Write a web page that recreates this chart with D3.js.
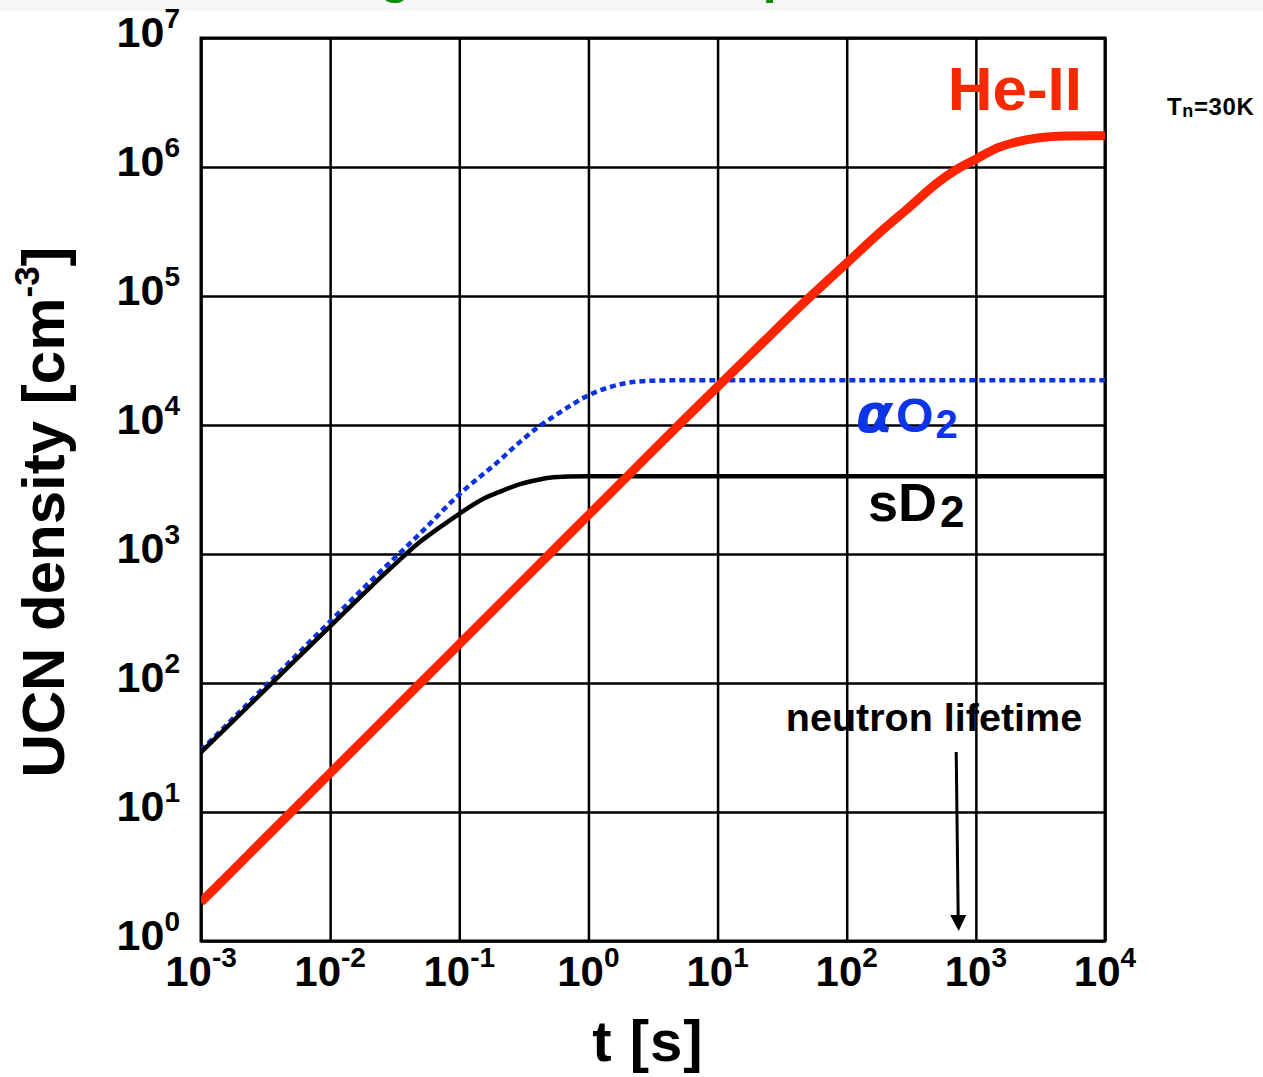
<!DOCTYPE html>
<html><head><meta charset="utf-8">
<script src="https://cdn.jsdelivr.net/npm/d3@7"></script>
<style>
html,body{margin:0;padding:0;background:#fff;}
svg{display:block;font-family:"Liberation Sans",Arial,Helvetica,sans-serif;font-weight:bold;}
</style></head>
<body>
<svg id="chart" width="1263" height="1077"></svg>
<script>
// ---- data ----
const xTickExps = [-3, -2, -1, 0, 1, 2, 3, 4];
const yTickExps = [0, 1, 2, 3, 4, 5, 6, 7];

const heT = [0.001, 0.002, 0.005, 0.01, 0.02, 0.05, 0.1, 0.2, 0.5, 1, 2, 5, 10, 20, 50, 100, 200, 300, 500, 700, 1000, 1500, 2000, 3000, 5000, 10000];
const heN = [2, 4, 10, 20, 40, 100, 200, 400, 1000, 2000, 4000, 10000, 19800, 39000, 95000, 180000, 340000, 480000, 750000, 950000, 1150000, 1420000, 1550000, 1680000, 1740000, 1750000];

const sd2T = [0.001, 0.002, 0.005, 0.01, 0.02, 0.03, 0.05, 0.07, 0.1, 0.15, 0.2, 0.3, 0.4, 0.5, 0.7, 1, 10, 100, 1000, 10000];
const sd2N = [29, 57, 140, 275, 540, 790, 1250, 1600, 2050, 2650, 3000, 3500, 3750, 3900, 3980, 4000, 4000, 4000, 4000, 4000];

const o2T = [0.001, 0.002, 0.005, 0.01, 0.02, 0.05, 0.1, 0.2, 0.3, 0.4, 0.6, 0.8, 1, 1.5, 2, 3, 5, 10, 100, 1000, 10000];
const o2N = [30, 60, 150, 300, 600, 1450, 2900, 5200, 7500, 9500, 12500, 15000, 17000, 19800, 21200, 22000, 22200, 22200, 22200, 22200, 22200];

const lifetimeT = 730;

// ---- layout ----
const svg = d3.select("#chart");
const L = 201, R = 1105, T = 38, B = 941;
const x = d3.scaleLog().domain([1e-3, 1e4]).range([L, R]);
const y = d3.scaleLog().domain([1, 1e7]).range([B, T]);

// top band with green title cut off by the page edge, as in the reference
svg.append("rect").attr("x", 0).attr("y", 0).attr("width", 1263).attr("height", 11).attr("fill", "#f7f7f7");
const title = svg.append("text").attr("y", -9).attr("font-size", 56).attr("fill", "#0a8c0a")
  .text("UCN growth in the superthermal");
(function placeTitle(){
  const s = title.text();
  const gi = s.indexOf("g"), pi = s.indexOf("p");
  const node = title.node();
  const d = node.getStartPositionOfChar(pi).x - node.getStartPositionOfChar(gi).x;
  const fs = 56 * (763 - 380) / d;
  title.attr("font-size", fs).attr("y", 3 - 0.2 * fs);
  const gx0 = node.getStartPositionOfChar(gi).x;
  title.attr("x", 380 - gx0);
})();

// grid via axes
const gx = svg.append("g").attr("transform", `translate(0,${B})`)
  .call(d3.axisBottom(x).tickValues(xTickExps.map(e => Math.pow(10, e))).tickSize(-(B - T)).tickFormat(""));
const gy = svg.append("g").attr("transform", `translate(${L},0)`)
  .call(d3.axisLeft(y).tickValues(yTickExps.map(e => Math.pow(10, e))).tickSize(-(R - L)).tickFormat(""));
[gx, gy].forEach(g => {
  g.select(".domain").remove();
  g.selectAll(".tick line").attr("stroke", "#000").attr("stroke-width", 2.5);
});
svg.append("rect").attr("x", L).attr("y", T).attr("width", R - L).attr("height", B - T)
  .attr("fill", "none").attr("stroke", "#000").attr("stroke-width", 3);

// tick labels
xTickExps.forEach(e => {
  const t = svg.append("text").attr("x", x(Math.pow(10, e))).attr("y", 986)
    .attr("text-anchor", "middle").attr("font-size", 42).attr("fill", "#000");
  t.append("tspan").text("10");
  t.append("tspan").attr("dy", -19).attr("font-size", 28).text(String(e));
});
yTickExps.forEach(e => {
  const t = svg.append("text").attr("x", 180).attr("y", y(Math.pow(10, e)) + 9)
    .attr("text-anchor", "end").attr("font-size", 43).attr("fill", "#000");
  t.append("tspan").text("10");
  t.append("tspan").attr("dy", -19).attr("font-size", 28).text(String(e));
});

// axis titles
const yt = svg.append("text").attr("transform", "translate(64,512) rotate(-90)")
  .attr("text-anchor", "middle").attr("font-size", 60).attr("fill", "#000");
yt.append("tspan").text("UCN density [cm");
yt.append("tspan").attr("dy", -25).attr("font-size", 35).text("-3");
yt.append("tspan").attr("dy", 25).text("]");

svg.append("text").attr("x", 648).attr("y", 1061).attr("text-anchor", "middle")
  .attr("font-size", 58).attr("letter-spacing", 1).attr("fill", "#000").text("t [s]");

// curves
const line = d3.line().x(d => x(d[0])).y(d => y(d[1])).curve(d3.curveMonotoneX);
svg.append("clipPath").attr("id", "pc").append("rect")
  .attr("x", L).attr("y", T).attr("width", R - L).attr("height", B - T);

svg.append("path").datum(o2T.map((t, i) => [t, o2N[i]])).attr("d", line)
  .attr("fill", "none").attr("stroke", "#0b33e0").attr("stroke-width", 4.5)
  .attr("stroke-dasharray", "6,4").attr("clip-path", "url(#pc)");
svg.append("path").datum(sd2T.map((t, i) => [t, sd2N[i]])).attr("d", line)
  .attr("fill", "none").attr("stroke", "#000").attr("stroke-width", 4.5).attr("clip-path", "url(#pc)");
svg.append("path").datum(heT.map((t, i) => [t, heN[i]])).attr("d", line)
  .attr("fill", "none").attr("stroke", "#ff2400").attr("stroke-width", 9).attr("clip-path", "url(#pc)");

// series labels
svg.append("text").attr("x", 1082).attr("y", 110).attr("text-anchor", "end")
  .attr("font-size", 62).attr("fill", "#f52a00").text("He-II");

const ao = svg.append("text").attr("x", 856).attr("y", 432).attr("font-size", 48).attr("fill", "#0b35e6");
ao.append("tspan").attr("font-style", "italic").attr("font-family", "'DejaVu Sans',sans-serif").attr("font-size", 54).text("α");
ao.append("tspan").attr("dx", 3).text("O");
ao.append("tspan").attr("dx", 2).attr("dy", 6).attr("font-size", 40).text("2");

const sd = svg.append("text").attr("x", 868).attr("y", 521).attr("font-size", 54).attr("fill", "#000");
sd.append("tspan").text("sD");
sd.append("tspan").attr("dx", 3).attr("dy", 6).attr("font-size", 44).text("2");

svg.append("text").attr("x", 934).attr("y", 731).attr("text-anchor", "middle")
  .attr("font-size", 39.5).attr("fill", "#000").text("neutron lifetime");

// arrow
const ax = x(lifetimeT);
svg.append("line").attr("x1", ax - 2).attr("y1", 752).attr("x2", ax).attr("y2", 918)
  .attr("stroke", "#000").attr("stroke-width", 3);
svg.append("path").attr("d", `M${ax - 8},915 L${ax + 8},915 L${ax + 0.5},931 Z`).attr("fill", "#000");

const tn = svg.append("text").attr("x", 1167).attr("y", 115).attr("font-size", 24).attr("letter-spacing", 0.6).attr("fill", "#000");
tn.append("tspan").text("T");
tn.append("tspan").attr("dy", 2).attr("font-size", 18).text("n");
tn.append("tspan").attr("dy", -2).text("=30K");
</script>
</body></html>
